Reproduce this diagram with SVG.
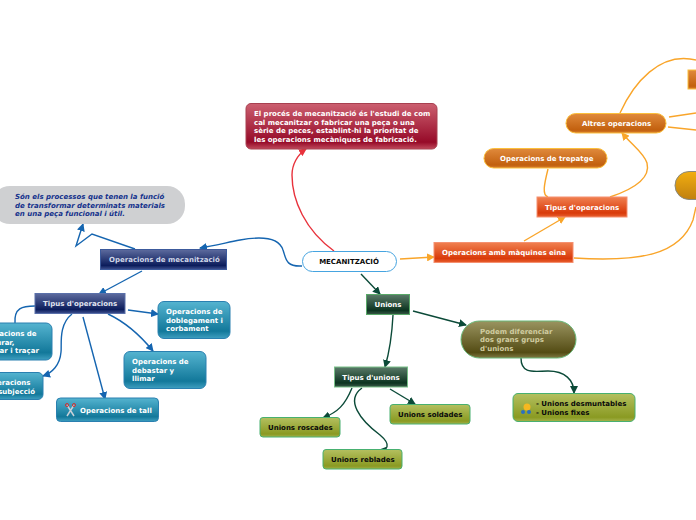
<svg xmlns="http://www.w3.org/2000/svg" width="696" height="520" viewBox="0 0 696 520">
<style>
text{font-family:"DejaVu Sans","Liberation Sans",sans-serif;font-size:7px;font-weight:bold}
.w{fill:#fff}.k{fill:#0a0a0a}
.c{fill:none;stroke-width:1.4}
.b{stroke:#1565b0}.r{stroke:#e8323c}.o{stroke:#f9a52a}.g{stroke:#0b4a38}
.ab{fill:#1565b0}.ar{fill:#e8323c}.ao{fill:#f9a52a}.ag{fill:#0b4a38}
</style>
<defs>
<linearGradient id="navy" x1="0" y1="0" x2="0" y2="1"><stop offset="0" stop-color="#5d6b9e"/><stop offset=".8" stop-color="#0c1d5c"/><stop offset="1" stop-color="#3f5290"/></linearGradient>
<linearGradient id="teal" x1="0" y1="0" x2="0" y2="1"><stop offset="0" stop-color="#55b4d0"/><stop offset=".8" stop-color="#12789a"/><stop offset="1" stop-color="#3f9fc0"/></linearGradient>
<linearGradient id="red" x1="0" y1="0" x2="0" y2="1"><stop offset="0" stop-color="#cc6070"/><stop offset=".85" stop-color="#960a28"/><stop offset="1" stop-color="#c04a5c"/></linearGradient>
<linearGradient id="ora" x1="0" y1="0" x2="0" y2="1"><stop offset="0" stop-color="#e08a3c"/><stop offset=".85" stop-color="#c2600e"/><stop offset="1" stop-color="#d88030"/></linearGradient>
<linearGradient id="ver" x1="0" y1="0" x2="0" y2="1"><stop offset="0" stop-color="#f08050"/><stop offset=".8" stop-color="#d93a0a"/><stop offset="1" stop-color="#e86030"/></linearGradient>
<linearGradient id="gold" x1="0" y1="0" x2="0" y2="1"><stop offset="0" stop-color="#f2ae10"/><stop offset="1" stop-color="#c08010"/></linearGradient>
<linearGradient id="dg" x1="0" y1="0" x2="0" y2="1"><stop offset="0" stop-color="#5a7a68"/><stop offset=".8" stop-color="#0c3420"/><stop offset="1" stop-color="#3a5a48"/></linearGradient>
<linearGradient id="ol" x1="0" y1="0" x2="0" y2="1"><stop offset="0" stop-color="#9a9460"/><stop offset=".85" stop-color="#544c14"/><stop offset="1" stop-color="#807a44"/></linearGradient>
<linearGradient id="lime" x1="0" y1="0" x2="0" y2="1"><stop offset="0" stop-color="#b4c060"/><stop offset=".85" stop-color="#8a9a22"/><stop offset="1" stop-color="#a4b24c"/></linearGradient>
<marker id="mb" markerWidth="8" markerHeight="8" refX="7" refY="4" orient="auto" markerUnits="userSpaceOnUse"><path d="M0 0L8 4L0 8Z" class="ab"/></marker>
<marker id="mr" markerWidth="8" markerHeight="8" refX="7" refY="4" orient="auto" markerUnits="userSpaceOnUse"><path d="M0 0L8 4L0 8Z" class="ar"/></marker>
<marker id="mo" markerWidth="8" markerHeight="8" refX="7" refY="4" orient="auto" markerUnits="userSpaceOnUse"><path d="M0 0L8 4L0 8Z" class="ao"/></marker>
<marker id="mg" markerWidth="8" markerHeight="8" refX="7" refY="4" orient="auto" markerUnits="userSpaceOnUse"><path d="M0 0L8 4L0 8Z" class="ag"/></marker>
</defs>

<g id="connectors">
<path class="c r" marker-end="url(#mr)" d="M334 251C305 230 292 200 292 175C292 165 297 155 306 149"/>
<path class="c b" marker-end="url(#mb)" d="M302 266C285 267 286 258 283 250C279 238 262 236 240 240C225 243 212 246 200 248"/>
<path class="c o" marker-end="url(#mo)" d="M400 259L434 257"/>
<path class="c g" marker-end="url(#mg)" d="M361 274L380 294"/>
<path class="c b" marker-end="url(#mb)" d="M135 249L92 234L76 246L83 224"/>
<path class="c b" marker-end="url(#mb)" d="M142 271L99 294"/>
<path class="c b" d="M35 306C22 306 14 308 15 323"/>
<path class="c b" marker-end="url(#mb)" d="M128 310L158 314"/>
<path class="c b" marker-end="url(#mb)" d="M108 314C125 322 140 335 153 351"/>
<path class="c b" marker-end="url(#mb)" d="M83 317L105 399"/>
<path class="c b" marker-end="url(#mb)" d="M72 314C58 325 62 345 61 352C60 365 52 373 43 376"/>
<path class="c o" marker-end="url(#mo)" d="M524 241L565 217"/>
<path class="c o" d="M548 169C544 185 542 195 548 197"/>
<path class="c o" marker-end="url(#mo)" d="M610 197C640 187 650 175 647 163C644 153 632 145 622 133"/>
<path class="c o" d="M620 113C635 80 660 55 690 59L696 60"/>
<path class="c o" d="M669 117L696 113"/>
<path class="c o" d="M668 127L696 130"/>
<path class="c o" d="M574 258C640 262 680 255 693 220L696 207"/>
<path class="c g" marker-end="url(#mg)" d="M393 315C392 335 390 350 385 367"/>
<path class="c g" marker-end="url(#mg)" d="M413 311L466 325"/>
<path class="c g" marker-end="url(#mg)" d="M352 388C345 405 338 412 323 418"/>
<path class="c g" marker-end="url(#mg)" d="M362 388C345 400 360 420 380 435C392 445 387 451 379 450"/>
<path class="c g" marker-end="url(#mg)" d="M390 389L415 404"/>
<path class="c g" marker-end="url(#mg)" d="M521 358C521 375 535 371 548 371C565 371 574 380 574 393"/>
</g>

<g id="n-mec"><rect x="302.500" y="251.500" width="94" height="20" rx="10" fill="#fff" stroke="#46a4e0"/><text class="k" x="349" y="264" text-anchor="middle">MECANITZACIÓ</text></g>

<g id="n-proces"><rect x="246" y="103.500" width="191" height="45.500" rx="5" fill="url(#red)" stroke="#a84050"/><text class="w"><tspan x="254" y="116">El procés de mecanització és l'estudi de com</tspan><tspan x="254" y="125">cal mecanitzar o fabricar una peça o una</tspan><tspan x="254" y="133">sèrie de peces, establint-hi la prioritat de</tspan><tspan x="254" y="142">les operacions mecàniques de fabricació.</tspan></text></g>

<g id="n-sons"><rect x="-8" y="186" width="193" height="38" rx="18" fill="#cfd0d2"/><text style="font-style:italic" fill="#14328c"><tspan x="15" y="199">Són els processos que tenen la funció</tspan><tspan x="15" y="208">de transformar determinats materials</tspan><tspan x="15" y="216">en una peça funcional i útil.</tspan></text></g>

<g id="n-opmec"><rect x="100.500" y="249.500" width="126" height="20" fill="url(#navy)" stroke="#3c5a9c"/><text x="109" y="262" fill="#cfd6e8">Operacions de mecanització</text></g>

<g id="n-tipus1"><rect x="35" y="293.500" width="90" height="20" fill="url(#navy)" stroke="#5a70aa"/><text x="43" y="306" fill="#e0e4f0">Tipus d'operacions</text></g>

<g id="n-doble"><rect x="158" y="301.500" width="72" height="37" rx="6" fill="url(#teal)" stroke="#2a80b0"/><text class="w"><tspan x="166" y="314">Operacions de</tspan><tspan x="166" y="323">doblegament i</tspan><tspan x="166" y="331">corbament</tspan></text></g>

<g id="n-deb"><rect x="124" y="351.500" width="82" height="37" rx="6" fill="url(#teal)" stroke="#2a80b0"/><text class="w"><tspan x="132" y="364">Operacions de</tspan><tspan x="132" y="373">debastar y</tspan><tspan x="132" y="381">llimar</tspan></text></g>

<g id="n-tall"><rect x="56.500" y="398" width="102" height="23.500" rx="4" fill="url(#teal)" stroke="#2a80b0"/><path d="M67 405L74 416M74 405L67 416" stroke="#c8d0d8" stroke-width="1.500"/><circle cx="67" cy="405" r="1.500" fill="none" stroke="#d03030"/><circle cx="74" cy="405" r="1.500" fill="none" stroke="#d03030"/><text class="w" x="80" y="413">Operacions de tall</text></g>

<g id="n-marcar"><rect x="-30" y="323" width="82" height="37" rx="6" fill="url(#teal)" stroke="#2a80b0"/><text class="w"><tspan x="-20" y="336">Operacions de</tspan><tspan x="-20" y="345">mesurar,</tspan><tspan x="-20" y="353">marcar i traçar</tspan></text></g>

<g id="n-subj"><rect x="-30" y="372.500" width="73" height="27" rx="5" fill="url(#teal)" stroke="#2a80b0"/><text class="w"><tspan x="-14" y="385">Operacions</tspan><tspan x="-14" y="394">de subjecció</tspan></text></g>

<g id="n-maq"><rect x="434" y="242.500" width="139" height="20" fill="url(#ver)" stroke="#f59070"/><text class="w" x="442" y="255">Operacions amb màquines eina</text></g>

<g id="n-tipus2"><rect x="537" y="197" width="90" height="20" fill="url(#ver)" stroke="#f59070"/><text class="w" x="545" y="210">Tipus d'operacions</text></g>

<g id="n-trep"><rect x="484" y="148.500" width="123" height="19.500" rx="9.700" fill="url(#ora)" stroke="#fbbf3c"/><text class="w" x="500" y="161">Operacions de trepatge</text></g>

<g id="n-altres"><rect x="566" y="113.500" width="100" height="19.500" rx="9.700" fill="url(#ora)" stroke="#fbbf3c"/><text class="w" x="582" y="126">Altres operacions</text></g>

<g id="n-top"><rect x="688" y="70" width="20" height="19" fill="url(#ora)" stroke="#fbbf3c"/></g>

<g id="n-gold"><rect x="675" y="171.500" width="50" height="28" rx="14" fill="url(#gold)" stroke="#8a8a80"/></g>

<g id="n-unions"><rect x="366.500" y="294.500" width="43" height="20" fill="url(#dg)" stroke="#58a868"/><text class="w" x="388" y="307" text-anchor="middle">Unions</text></g>

<g id="n-tipus3"><rect x="334.500" y="367" width="73" height="20" fill="url(#dg)" stroke="#78c088"/><text class="w" x="371" y="380" text-anchor="middle">Tipus d'unions</text></g>

<g id="n-pod"><rect x="461" y="321" width="115" height="37" rx="18.500" fill="url(#ol)" stroke="#68b878"/><text fill="#d0cca0"><tspan x="480" y="334">Podem diferenciar</tspan><tspan x="480" y="342">dos grans grups</tspan><tspan x="480" y="351">d'unions</tspan></text></g>

<g id="n-desm"><rect x="513" y="393.500" width="122" height="28" rx="5" fill="url(#lime)" stroke="#48b070"/><circle cx="527" cy="407" r="3.500" fill="#f5b820"/><circle cx="523" cy="412" r="2" fill="#2a70c0"/><circle cx="529" cy="412" r="2" fill="#2a70c0"/><text class="k"><tspan x="536" y="406">- Unions desmuntables</tspan><tspan x="536" y="415">- Unions fixes</tspan></text></g>

<g id="n-rosc"><rect x="260" y="417.500" width="80" height="19.500" rx="3" fill="url(#lime)" stroke="#48b070"/><text class="k" x="268" y="430">Unions roscades</text></g>

<g id="n-sold"><rect x="390" y="404.500" width="80" height="19.500" rx="3" fill="url(#lime)" stroke="#48b070"/><text class="k" x="398" y="417">Unions soldades</text></g>

<g id="n-rebl"><rect x="323" y="449.500" width="79" height="19.500" rx="3" fill="url(#lime)" stroke="#48b070"/><text class="k" x="331" y="462">Unions reblades</text></g>
</svg>
